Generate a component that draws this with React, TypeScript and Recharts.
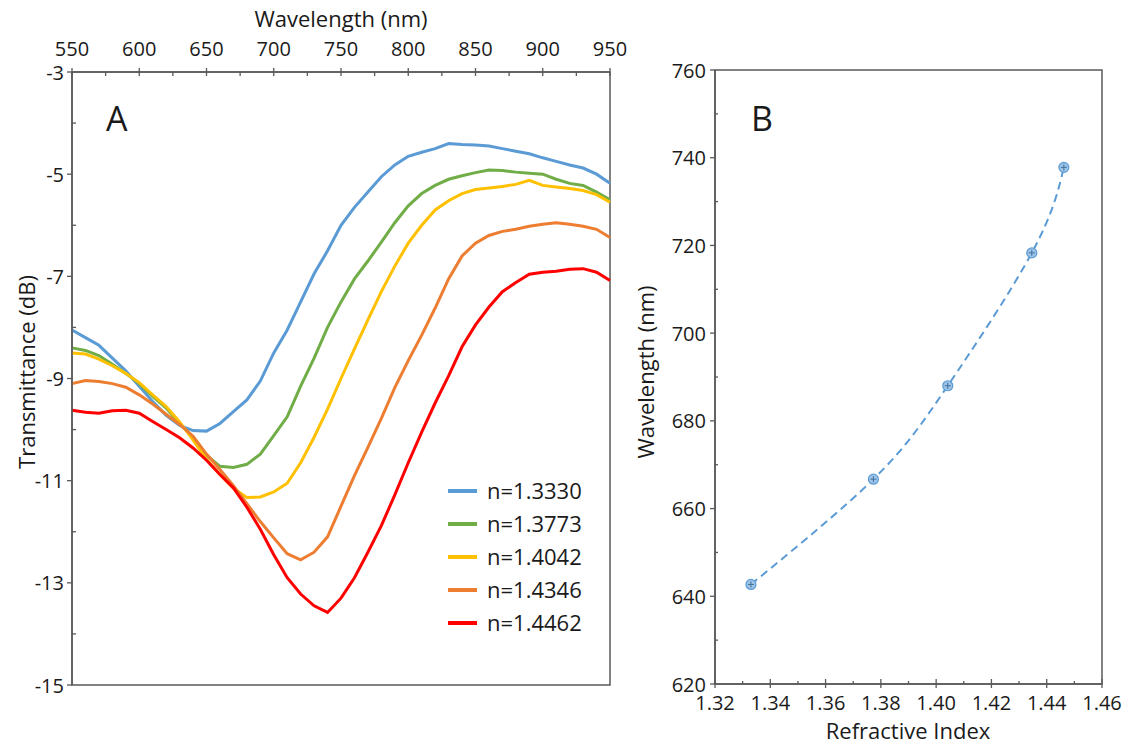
import React from "react";
import { LineChart, Line, ComposedChart, XAxis, YAxis, ReferenceArea } from "recharts";

// panel A: transmission spectra
const wavelengths = [
  550, 560, 570, 580, 590, 600, 610, 620, 630, 640, 650, 660, 670, 680, 690, 700, 710, 720, 730, 740, 750,
  760, 770, 780, 790, 800, 810, 820, 830, 840, 850, 860, 870, 880, 890, 900, 910, 920, 930, 940, 950,
];
const n13330 = [
  -8.05, -8.2, -8.35, -8.6, -8.85, -9.15, -9.45, -9.72, -9.92, -10.02, -10.03, -9.88, -9.65, -9.42, -9.05, -8.5,
  -8.05, -7.5, -6.95, -6.5, -6.0, -5.65, -5.35, -5.05, -4.82, -4.65, -4.57, -4.5, -4.4, -4.42, -4.43, -4.45, -4.5,
  -4.55, -4.6, -4.68, -4.75, -4.82, -4.88, -5.0, -5.18,
];
const n13773 = [
  -8.4, -8.45, -8.55, -8.72, -8.9, -9.1, -9.35, -9.58, -9.88, -10.15, -10.5, -10.72, -10.74, -10.68, -10.48,
  -10.12, -9.75, -9.15, -8.6, -8.0, -7.5, -7.05, -6.7, -6.33, -5.95, -5.62, -5.38, -5.22, -5.1, -5.03, -4.97,
  -4.92, -4.93, -4.96, -4.98, -5.0, -5.1, -5.18, -5.22, -5.35, -5.5,
];
const n14042 = [
  -8.5, -8.52, -8.62, -8.75, -8.9, -9.08, -9.32, -9.55, -9.85, -10.2, -10.58, -10.88, -11.15, -11.33, -11.32,
  -11.22, -11.05, -10.65, -10.15, -9.6, -9.0, -8.42, -7.85, -7.3, -6.8, -6.35, -6.0, -5.7, -5.52, -5.38, -5.3,
  -5.27, -5.24, -5.2, -5.12, -5.22, -5.25, -5.28, -5.32, -5.4, -5.55,
];
const n14346 = [
  -9.1, -9.04, -9.06, -9.1, -9.17, -9.32, -9.5, -9.7, -9.9, -10.13, -10.48, -10.78, -11.1, -11.45, -11.8,
  -12.12, -12.43, -12.55, -12.4, -12.1, -11.5, -10.9, -10.35, -9.78, -9.18, -8.65, -8.15, -7.62, -7.05, -6.6,
  -6.35, -6.2, -6.12, -6.08, -6.02, -5.98, -5.95, -5.98, -6.02, -6.08, -6.24,
];
const n14462 = [
  -9.62, -9.66, -9.68, -9.63, -9.62, -9.68, -9.84, -10.0, -10.16, -10.36, -10.6, -10.88, -11.14, -11.52, -11.95,
  -12.45, -12.9, -13.22, -13.45, -13.58, -13.3, -12.9, -12.4, -11.88, -11.28, -10.65, -10.05, -9.48, -8.95,
  -8.38, -7.95, -7.6, -7.3, -7.12, -6.96, -6.92, -6.9, -6.86, -6.85, -6.92, -7.08,
];
const xTicksA = [550, 575, 600, 625, 650, 675, 700, 725, 750, 775, 800, 825, 850, 875, 900, 925, 950];
const yTicksA = [-15, -14, -13, -12, -11, -10, -9, -8, -7, -6, -5, -4, -3];

// panel B: resonance wavelength vs refractive index
const refIndex = [1.333, 1.3773, 1.4042, 1.4346, 1.4462];
const peakWl = [642.7, 666.7, 688.0, 718.3, 737.8];
const xTicksB = [1.32, 1.33, 1.34, 1.35, 1.36, 1.37, 1.38, 1.39, 1.4, 1.41, 1.42, 1.43, 1.44, 1.45, 1.46];
const yTicksB = [620, 630, 640, 650, 660, 670, 680, 690, 700, 710, 720, 730, 740, 750, 760];

const series = [
  { key: "a", name: "n=1.3330", color: "#5b9bd5", values: n13330 },
  { key: "b", name: "n=1.3773", color: "#70ad47", values: n13773 },
  { key: "c", name: "n=1.4042", color: "#ffc000", values: n14042 },
  { key: "d", name: "n=1.4346", color: "#ed7d31", values: n14346 },
  { key: "e", name: "n=1.4462", color: "#ff0000", values: n14462 },
];

const spectra = wavelengths.map((w, i) => {
  const row: any = { w };
  series.forEach((s) => (row[s.key] = s.values[i]));
  return row;
});
const fit = refIndex.map((n, i) => ({ n, wl: peakWl[i] }));

const AXIS = "#595959";
const TXT = "#1a1a1a";
const FONT = "'Open Sans', sans-serif";

const TopTick = ({ x, y, payload }: any) => {
  const major = payload.value % 50 === 0;
  return (
    <g>
      <line x1={x} x2={x} y1={major ? y - 4 : y} y2={y + 4} stroke={AXIS} strokeWidth={1.3} />
      {major && (
        <text x={x} y={y - 16} textAnchor="middle" fontSize={20} fill={TXT} fontFamily={FONT}>
          {payload.value}
        </text>
      )}
    </g>
  );
};

const LeftTickA = ({ x, y, payload }: any) => {
  const major = Math.abs(payload.value) % 2 === 1;
  return (
    <g>
      <line x1={major ? x - 5 : x} x2={major ? x : x + 4} y1={y} y2={y} stroke={AXIS} strokeWidth={1.3} />
      {major && (
        <text x={x - 8} y={y} textAnchor="end" dominantBaseline="central" fontSize={20} fill={TXT} fontFamily={FONT}>
          {payload.value}
        </text>
      )}
    </g>
  );
};

const BottomTickB = ({ x, y, payload }: any) => {
  const major = Math.round(payload.value * 100) % 2 === 0;
  return (
    <g>
      <line x1={x} x2={x} y1={major ? y - 5 : y - 3} y2={major ? y + 4 : y} stroke={AXIS} strokeWidth={1.3} />
      {major && (
        <text x={x} y={y + 26} textAnchor="middle" fontSize={20} fill={TXT} fontFamily={FONT}>
          {payload.value.toFixed(2)}
        </text>
      )}
    </g>
  );
};

const LeftTickB = ({ x, y, payload }: any) => {
  const major = payload.value % 20 === 0;
  return (
    <g>
      <line x1={major ? x - 5 : x} x2={major ? x : x + 3} y1={y} y2={y} stroke={AXIS} strokeWidth={1.3} />
      {major && (
        <text x={x - 9} y={y} textAnchor="end" dominantBaseline="central" fontSize={20} fill={TXT} fontFamily={FONT}>
          {payload.value}
        </text>
      )}
    </g>
  );
};

const Marker = ({ cx, cy }: any) => (
  <g>
    <circle cx={cx} cy={cy} r={5} fill="#9dc3e6" stroke="#5b9bd5" strokeWidth={1.2} />
    <path d={`M${cx - 3},${cy} h6 M${cx},${cy - 3} v6`} stroke="#41719c" strokeWidth={1} />
  </g>
);

const label = (extra: React.CSSProperties): React.CSSProperties => ({
  position: "absolute",
  fontFamily: FONT,
  color: TXT,
  whiteSpace: "nowrap",
  ...extra,
});

export default function App() {
  return (
    <div style={{ position: "absolute", left: 0, top: 0, width: 1126, height: 745, background: "#fff" }}>
      <div style={{ position: "absolute", left: 0, top: 0 }}>
        <LineChart width={640} height={745} data={spectra} margin={{ top: 12, right: 30, bottom: 60, left: 0 }}>
          <ReferenceArea x1={550} x2={950} y1={-15} y2={-3} fill="none" stroke={AXIS} strokeWidth={1.5} />
          <XAxis
            dataKey="w"
            type="number"
            orientation="top"
            domain={[550, 950]}
            ticks={xTicksA}
            interval={0}
            height={60}
            tickSize={0}
            tickMargin={0}
            tickLine={false}
            tick={<TopTick />}
            axisLine={{ stroke: AXIS, strokeWidth: 1.5 }}
          />
          <YAxis
            type="number"
            domain={[-15, -3]}
            ticks={yTicksA}
            interval={0}
            width={72}
            tickSize={0}
            tickMargin={0}
            tickLine={false}
            tick={<LeftTickA />}
            axisLine={{ stroke: AXIS, strokeWidth: 1.5 }}
          />
          {series.map((s) => (
            <Line
              key={s.key}
              dataKey={s.key}
              name={s.name}
              type="linear"
              stroke={s.color}
              strokeWidth={3}
              dot={false}
              isAnimationActive={false}
            />
          ))}
        </LineChart>
      </div>

      <div style={{ position: "absolute", left: 640, top: 0 }}>
        <ComposedChart width={486} height={745} data={fit} margin={{ top: 70, right: 24, bottom: 11, left: 0 }}>
          <ReferenceArea x1={1.32} x2={1.46} y1={620} y2={760} fill="none" stroke={AXIS} strokeWidth={1.5} />
          <XAxis
            dataKey="n"
            type="number"
            domain={[1.32, 1.46]}
            ticks={xTicksB}
            interval={0}
            height={50}
            tickSize={0}
            tickMargin={0}
            tickLine={false}
            tick={<BottomTickB />}
            axisLine={{ stroke: AXIS, strokeWidth: 1.5 }}
          />
          <YAxis
            type="number"
            domain={[620, 760]}
            ticks={yTicksB}
            interval={0}
            width={75}
            tickSize={0}
            tickMargin={0}
            tickLine={false}
            tick={<LeftTickB />}
            axisLine={{ stroke: AXIS, strokeWidth: 1.5 }}
          />
          <Line
            dataKey="wl"
            type="natural"
            stroke="#5b9bd5"
            strokeWidth={2}
            strokeDasharray="8 5"
            dot={<Marker />}
            isAnimationActive={false}
          />
        </ComposedChart>
      </div>

      {/* legend of panel A */}
      <div style={label({ left: 448, top: 474, fontSize: 22, lineHeight: "33px" })}>
        {series.map((s) => (
          <div key={s.key} style={{ display: "flex", alignItems: "center" }}>
            <span style={{ display: "inline-block", width: 29, height: 4, background: s.color, marginRight: 10 }} />
            <span>{s.name}</span>
          </div>
        ))}
      </div>

      <div style={label({ left: 106, top: 95, fontSize: 34 })}>A</div>
      <div style={label({ left: 751, top: 95, fontSize: 34 })}>B</div>

      <div style={label({ left: 341, top: 18, fontSize: 22, transform: "translate(-50%, -50%)" })}>Wavelength (nm)</div>
      <div style={label({ left: 26, top: 372, fontSize: 22, transform: "translate(-50%, -50%) rotate(-90deg)" })}>
        Transmittance (dB)
      </div>
      <div style={label({ left: 645, top: 372, fontSize: 22, transform: "translate(-50%, -50%) rotate(-90deg)" })}>
        Wavelength (nm)
      </div>
      <div style={label({ left: 908, top: 730, fontSize: 22, transform: "translate(-50%, -50%)" })}>
        Refractive Index
      </div>
    </div>
  );
}
